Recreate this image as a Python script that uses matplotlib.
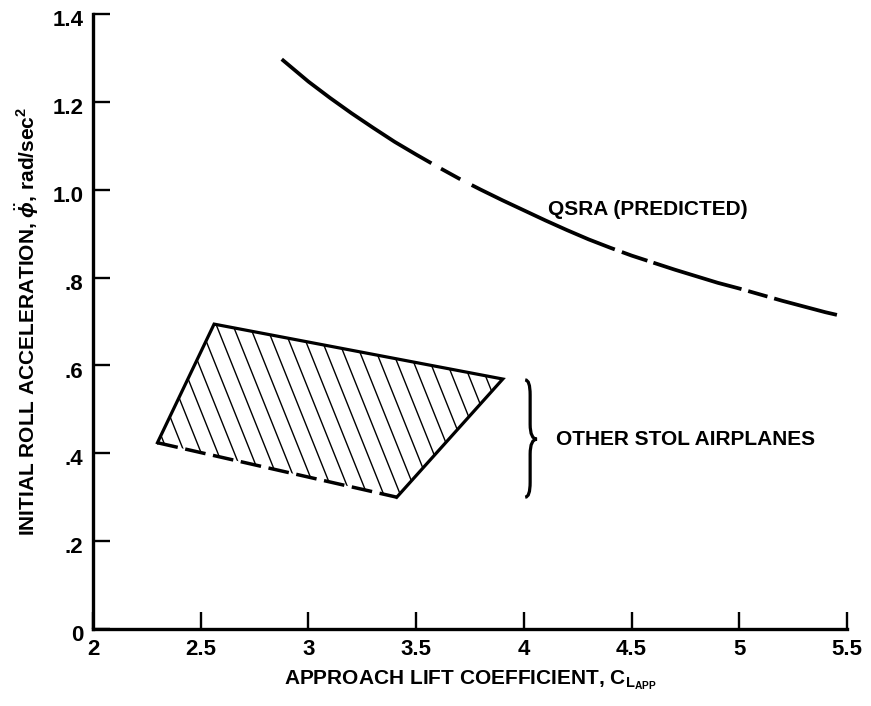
import numpy as np
import matplotlib
matplotlib.use("Agg")
import matplotlib.pyplot as plt
import matplotlib.transforms as mtransforms
from matplotlib.patches import Polygon, PathPatch
from matplotlib.collections import LineCollection
from matplotlib.path import Path

# QSRA predicted curve
curve_x = [2.876, 3.0, 3.1, 3.2, 3.3, 3.4, 3.5, 3.6, 3.7, 3.8, 3.9, 4.0, 4.1, 4.2,
           4.3, 4.4, 4.5, 4.6, 4.7, 4.8, 4.9, 5.0, 5.1, 5.2, 5.3, 5.4, 5.453]
curve_y = [1.297, 1.246, 1.209, 1.174, 1.141, 1.109, 1.080, 1.052, 1.025, 1.000, 0.976,
           0.953, 0.930, 0.908, 0.887, 0.868, 0.850, 0.834, 0.818, 0.803, 0.788, 0.775,
           0.761, 0.747, 0.734, 0.721, 0.715]

# other STOL airplanes region (left, top-left, right, bottom)
poly_x = [2.299, 2.562, 3.902, 3.41]
poly_y = [0.424, 0.694, 0.569, 0.300]

x_ticks = [2, 2.5, 3, 3.5, 4, 4.5, 5, 5.5]
x_tick_labels = ["2", "2.5", "3", "3.5", "4", "4.5", "5", "5.5"]
y_ticks = [0, 0.2, 0.4, 0.6, 0.8, 1.0, 1.2, 1.4]
y_tick_labels = ["0", ".2", ".4", ".6", ".8", "1.0", "1.2", "1.4"]

curve_label = "QSRA (PREDICTED)"
region_label = "OTHER STOL AIRPLANES"
x_label = r"APPROACH LIFT COEFFICIENT, $\mathbf{C_{L_{APP}}}$"
y_label = r"INITIAL ROLL ACCELERATION, $\ddot{\phi}$, rad/sec$^\mathbf{2}$"

plt.rcParams["font.family"] = ["Liberation Sans", "DejaVu Sans"]
plt.rcParams["font.weight"] = "bold"
plt.rcParams["mathtext.fontset"] = "custom"
plt.rcParams["mathtext.rm"] = "Liberation Sans:bold"
plt.rcParams["mathtext.bf"] = "Liberation Sans:bold"
plt.rcParams["mathtext.it"] = "Liberation Sans:italic:bold"
plt.rcParams["lines.scale_dashes"] = False

fig = plt.figure(figsize=(8.71, 7.06), dpi=100)
ax = fig.add_axes([0.1068, 0.1091, 0.8657, 0.8711])

# predicted curve with its broken pattern (lengths in points)
px = 0.72
curve_dashes = [182.6 * px, 11 * px, 22 * px, 12.8 * px, 157 * px, 7.5 * px, 27 * px,
                6.3 * px, 92 * px, 7 * px, 20 * px, 7 * px, 90 * px, 10 * px]
line, = ax.plot(curve_x, curve_y, color="black", lw=2.7, solid_capstyle="butt")
line.set_dashes(curve_dashes)
line.set_dash_capstyle("butt")

# hatched region
verts = np.column_stack([poly_x, poly_y])
patch = Polygon(verts, closed=True, facecolor="none", edgecolor="none")
ax.add_patch(patch)
slope = 1.225
c_vals = np.array(poly_x) + np.array(poly_y) / slope
spacing = 0.077
segs = []
for c in np.arange(c_vals.min() + 0.03, c_vals.max(), spacing):
    segs.append([(c - (-0.2) / slope, -0.2), (c - 1.2 / slope, 1.2)])
hatch = LineCollection(segs, colors="black", linewidths=1.0)
ax.add_collection(hatch)
hatch.set_clip_path(patch)

solid_idx = [3, 2, 1, 0]
ax.plot([poly_x[i] for i in solid_idx], [poly_y[i] for i in solid_idx],
        color="black", lw=2.3, solid_joinstyle="miter")
ax.plot([poly_x[0], poly_x[3]], [poly_y[0], poly_y[3]], color="black", lw=2.5,
        dashes=(15, 5.5), dash_capstyle="butt")

# brace next to the region
bx, by0, by1, bym = 4.029, 0.300, 0.567, 0.432
w, t, r = 0.023, 0.032, 0.034
brace = Path(
    [(bx - w, by1), (bx, by1), (bx, by1 - r),
     (bx, bym + r), (bx, bym), (bx + t, bym),
     (bx, bym), (bx, bym - r),
     (bx, by0 + r), (bx, by0), (bx - w, by0)],
    [Path.MOVETO, Path.CURVE3, Path.CURVE3,
     Path.LINETO, Path.CURVE3, Path.CURVE3,
     Path.CURVE3, Path.CURVE3,
     Path.LINETO, Path.CURVE3, Path.CURVE3])
ax.add_patch(PathPatch(brace, facecolor="none", edgecolor="black", lw=2.3))

ax.text(4.112, 0.956, curve_label, fontsize=15, fontweight="bold", ha="left", va="center")
ax.text(4.15, 0.432, region_label, fontsize=15, fontweight="bold", ha="left", va="center")

ax.set_xlim(2, 5.5)
ax.set_ylim(0, 1.4)
ax.set_xticks(x_ticks)
ax.set_xticklabels(x_tick_labels)
ax.set_yticks(y_ticks)
ax.set_yticklabels(y_tick_labels)
ax.tick_params(direction="in", length=12, width=1.7, labelsize=16, pad=7)
shift = mtransforms.ScaledTranslation(0, -3 / 72, fig.dpi_scale_trans)
for lbl in ax.get_yticklabels():
    lbl.set_transform(lbl.get_transform() + shift)
for side in ["top", "right"]:
    ax.spines[side].set_visible(False)
for side in ["left", "bottom"]:
    ax.spines[side].set_linewidth(2.4)

ax.set_xlabel(x_label, fontsize=15, fontweight="bold", labelpad=6)
ax.set_ylabel(y_label, fontsize=15, fontweight="bold", labelpad=8)

fig.savefig("out.png", dpi=100)
